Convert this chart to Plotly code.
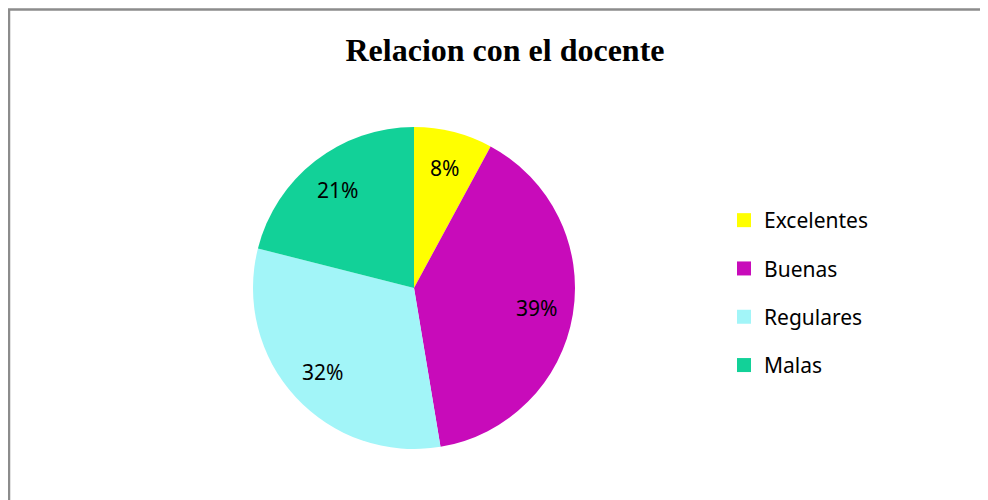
import numpy as np
import plotly.graph_objects as go

categories = ["Excelentes", "Buenas", "Regulares", "Malas"]
counts = [3, 15, 12, 8]
colors = ["#FFFF00", "#C80BBA", "#A2F5F8", "#12D198"]
title_text = "Relacion con el docente"

W, H = 988, 500
OFF = 8  # page body margin offset
cx, cy, R = 414 - OFF, 288 - OFF, 161  # pie center / radius in pixels (figure coords)

dom_x = [(cx - R) / W, (cx + R) / W]
dom_y = [(H - cy - R) / H, (H - cy + R) / H]

fig = go.Figure()
fig.add_trace(go.Pie(
    labels=categories, values=counts, sort=False, direction="clockwise",
    rotation=0, marker=dict(colors=colors, line=dict(width=0)),
    textinfo="none", showlegend=False, hoverinfo="label+percent",
    domain=dict(x=dom_x, y=dom_y),
))

# legend entries as separate groups so spacing can be controlled
for c, col in zip(categories, colors):
    fig.add_trace(go.Scatter(
        x=[None], y=[None], mode="markers", name=c, legendgroup=c,
        marker=dict(symbol="square", size=14, color=col),
    ))

# percentage labels placed along each slice mid-angle
total = sum(counts)
cum = np.cumsum([0] + counts)
for i, v in enumerate(counts):
    mid = (cum[i] + v / 2) / total * 2 * np.pi
    r = 0.77 * R
    px = cx + r * np.sin(mid)
    py = cy - r * np.cos(mid)
    fig.add_annotation(
        x=float(px / W), y=float(1 - py / H), xref="paper", yref="paper",
        xanchor="center", yanchor="middle",
        text=f"{round(v / total * 100)}%", showarrow=False,
        font=dict(family="Noto Sans", size=21, color="#000000"),
    )

fig.update_layout(
    width=W, height=H, margin=dict(l=0, r=0, t=0, b=0),
    paper_bgcolor="#FFFFFF", plot_bgcolor="#FFFFFF",
    title=dict(text=f"<b>{title_text}</b>", x=(505 - OFF) / W, y=1 - (50 - OFF) / H,
               xanchor="center", yanchor="middle",
               font=dict(family="Liberation Serif", size=32, color="#000000")),
    xaxis=dict(visible=False), yaxis=dict(visible=False),
    legend=dict(x=(724 - OFF) / W, y=1 - (200 - OFF) / H, xanchor="left", yanchor="top",
                tracegroupgap=18, font=dict(family="Noto Sans", size=21, color="#000000"),
                itemsizing="trace", bgcolor="rgba(0,0,0,0)"),
    shapes=[dict(type="rect", xref="paper", yref="paper",
                 x0=(9 - OFF) / W, x1=1.05, y0=-0.05, y1=1 - (9.5 - OFF) / H,
                 line=dict(color="#8C8C8C", width=2.5))],
)

fig.write_html("out.html")
